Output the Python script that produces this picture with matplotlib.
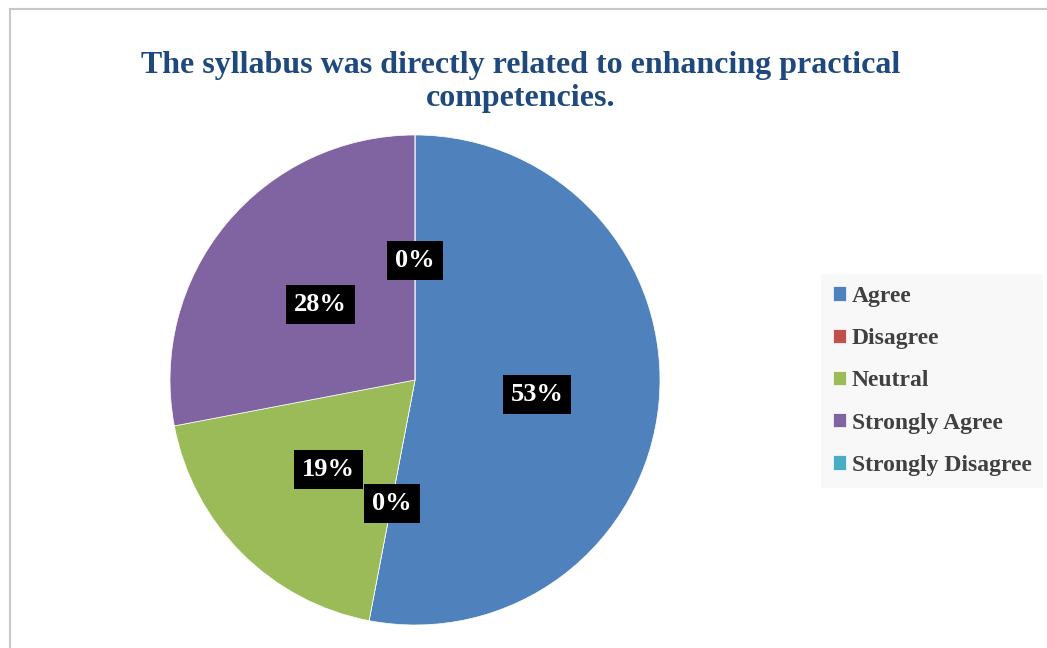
import matplotlib.pyplot as plt
from matplotlib.patches import Rectangle

categories = ['Agree', 'Disagree', 'Neutral', 'Strongly Agree', 'Strongly Disagree']
shares = [53, 0, 19, 28, 0]
colors = ['#4F81BD', '#C0504D', '#9BBB59', '#8064A2', '#4BACC6']
title = 'The syllabus was directly related to enhancing practical\ncompetencies.'

plt.rcParams['font.family'] = ['Liberation Serif', 'DejaVu Serif']

W, H = 1047, 648
fig = plt.figure(figsize=(W / 100, H / 100), dpi=100)

# chart area frame (runs off the right and bottom edges)
fig.add_artist(Rectangle((10 / W, -0.1), 1.2, 1 - 9 / H + 0.1,
                         transform=fig.transFigure, fill=False,
                         edgecolor='#c8c8c8', linewidth=1.5))

# pie centre (415, 380) px, radius 245 px
ax = fig.add_axes([170 / W, (H - 625) / H, 490 / W, 490 / H])
wedges, texts, autotexts = ax.pie(
    shares, colors=colors, startangle=90, counterclock=False,
    autopct='%1.0f%%', pctdistance=0.5,
    wedgeprops={'edgecolor': 'white', 'linewidth': 0.5})
ax.set_xlim(-1, 1)
ax.set_ylim(-1, 1)
for t in autotexts:
    t.set(color='white', fontsize=19, fontweight='bold',
          bbox=dict(boxstyle='square,pad=0.3', facecolor='black', edgecolor='none'))
    x, y = t.get_position()
    t.set_position((x, y - 0.012))

fig.text(521 / W, 1 - 51 / H, title, ha='center', va='top', fontsize=23,
         fontweight='bold', color='#1F497D', linespacing=1.2)

leg = fig.legend(wedges, categories, loc='upper left',
                 bbox_to_anchor=(821 / W, 1 - 274 / H),
                 frameon=True, fancybox=False, facecolor='#f8f8f8',
                 edgecolor='none', framealpha=1,
                 prop={'size': 17, 'weight': 'bold'},
                 handlelength=0.55, handleheight=0.55, handletextpad=0.25,
                 labelspacing=0.9, borderpad=0.5, borderaxespad=0)
for t in leg.get_texts():
    t.set_color('#404040')

fig.savefig('out.png', dpi=100)
